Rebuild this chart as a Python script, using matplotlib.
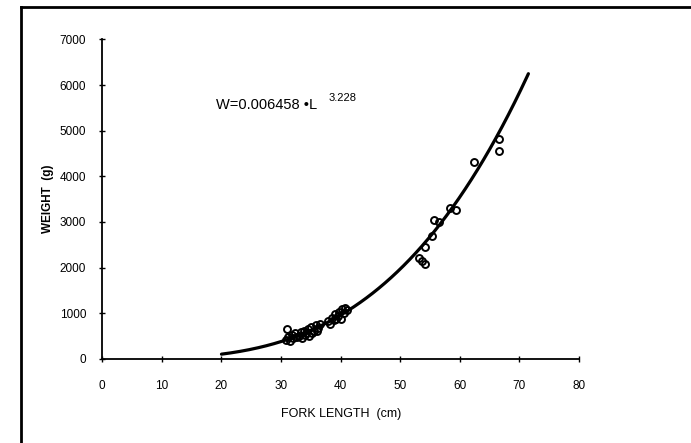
import numpy as np
import matplotlib.pyplot as plt
from matplotlib.lines import Line2D

plt.rcParams['font.family'] = ['Liberation Sans', 'DejaVu Sans']

# fork length (cm) and weight (g)
length = [30.8, 31.0, 31.2, 31.5, 31.8, 32.0, 32.3, 32.6, 33.0, 33.3, 33.5, 33.8,
          34.0, 34.2, 34.5, 34.7, 35.0, 35.2, 35.5, 35.8, 36.0, 36.2, 36.5,
          37.8, 38.2, 38.5, 38.8, 39.0, 39.2, 39.5, 39.7, 40.0, 40.2, 40.5, 40.8, 41.0,
          53.1, 53.6, 54.2, 54.2, 55.3, 55.7, 56.5, 58.3, 59.3, 62.4, 66.5, 66.5]
weight = [420, 650, 480, 400, 520, 450, 560, 470, 500, 580, 450, 620,
          520, 560, 650, 500, 700, 560, 620, 740, 600, 680, 760,
          820, 760, 900, 850, 980, 880, 940, 1020, 880, 1100, 1000, 1120, 1060,
          2210, 2150, 2080, 2460, 2690, 3050, 2990, 3300, 3270, 4310, 4820, 4550]

# fitted length-weight relation printed on the chart
a_coef = 0.006458
b_coef = 3.228
fit_range = [20, 71.5]

xticks = list(range(0, 90, 10))
yticks = list(range(0, 8000, 1000))

fig = plt.figure(figsize=(6.91, 4.43), dpi=100)
ax = fig.add_axes([0.148, 0.19, 0.690, 0.721])

L = np.linspace(fit_range[0], fit_range[1], 200)
ax.plot(L, a_coef * L ** b_coef, color='black', lw=2.3, solid_capstyle='round')
ax.plot(length, weight, 'o', mfc='none', mec='black', ms=5, mew=1.4)

ax.set_xlim(0, 80)
ax.set_ylim(0, 7000)
ax.set_xticks(xticks)
ax.set_yticks(yticks)
ax.tick_params(direction='inout', length=5, width=1, labelsize=8.5)
ax.tick_params(axis='x', pad=13)
ax.tick_params(axis='y', pad=9)
for s in ['top', 'right']:
    ax.spines[s].set_visible(False)
for s in ['left', 'bottom']:
    ax.spines[s].set_linewidth(1.3)

ax.set_xlabel('FORK LENGTH  (cm)', fontsize=9, labelpad=11)
ax.set_ylabel('WEIGHT  (g)', fontsize=8.5, fontweight='bold', labelpad=4)

ax.text(19.1, 5480, 'W=0.006458 \u2022L', fontsize=10.5, va='baseline')
ax.text(38.0, 5640, '3.228', fontsize=8, va='baseline')

# page frame around the chart
fig.add_artist(Line2D([21 / 691, 1], [1 - 7 / 443, 1 - 7 / 443], color='black', lw=2))
fig.add_artist(Line2D([21 / 691, 21 / 691], [0, 1 - 7 / 443], color='black', lw=2))

fig.savefig('out.png', dpi=100)
